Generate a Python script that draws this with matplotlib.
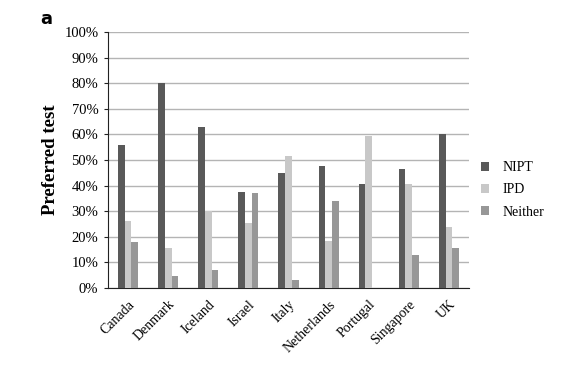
import numpy as np
import matplotlib.pyplot as plt
from matplotlib.ticker import PercentFormatter

countries = ["Canada", "Denmark", "Iceland", "Israel", "Italy",
             "Netherlands", "Portugal", "Singapore", "UK"]
nipt = [56.0, 80.0, 63.0, 37.7, 45.0, 47.8, 40.8, 46.5, 60.3]
ipd = [26.0, 15.5, 30.0, 25.3, 51.7, 18.2, 59.2, 40.5, 23.9]
neither = [18.0, 4.7, 7.0, 37.0, 3.2, 34.0, 0.0, 12.9, 15.6]

plt.rcParams["font.family"] = ["Liberation Serif", "DejaVu Serif"]

fig = plt.figure(figsize=(5.63, 3.67), dpi=100)
ax = fig.add_axes([0.192, 0.215, 0.641, 0.698])

x = np.arange(len(countries))
w = 0.167
ax.bar(x - w, nipt, w, color="#595959", label="NIPT", zorder=3)
ax.bar(x, ipd, w, color="#c8c8c8", label="IPD", zorder=3)
ax.bar(x + w, neither, w, color="#979797", label="Neither", zorder=3)

ax.set_xlim(-0.5, len(countries) - 0.5)
ax.set_ylim(0, 100)
ax.set_yticks(np.arange(0, 101, 10))
ax.yaxis.set_major_formatter(PercentFormatter(decimals=0))
ax.grid(axis="y", color="#b4b4b4", linewidth=1.0, zorder=0)

ax.set_xticks(x)
ax.set_xticklabels(countries, rotation=45, ha="right", rotation_mode="anchor",
                   fontsize=10)
ax.tick_params(axis="x", length=0, pad=7)
ax.tick_params(axis="y", length=3, labelsize=10.5, color="#222222", pad=4)

for side in ["top", "right"]:
    ax.spines[side].set_visible(False)
ax.spines["left"].set_color("#222222")
ax.spines["bottom"].set_color("#222222")

ax.set_ylabel("Preferred test", fontsize=13.5, fontweight="bold", labelpad=4)

fig.text(0.071, 0.925, "a", fontsize=13, fontweight="bold",
         family="DejaVu Sans", va="bottom")

ax.legend(loc="center left", bbox_to_anchor=(1.0, 0.383), frameon=False,
          fontsize=10, handlelength=0.55, handleheight=0.55, labelspacing=0.65,
          handletextpad=1.0)

fig.savefig("out.png", dpi=100)
